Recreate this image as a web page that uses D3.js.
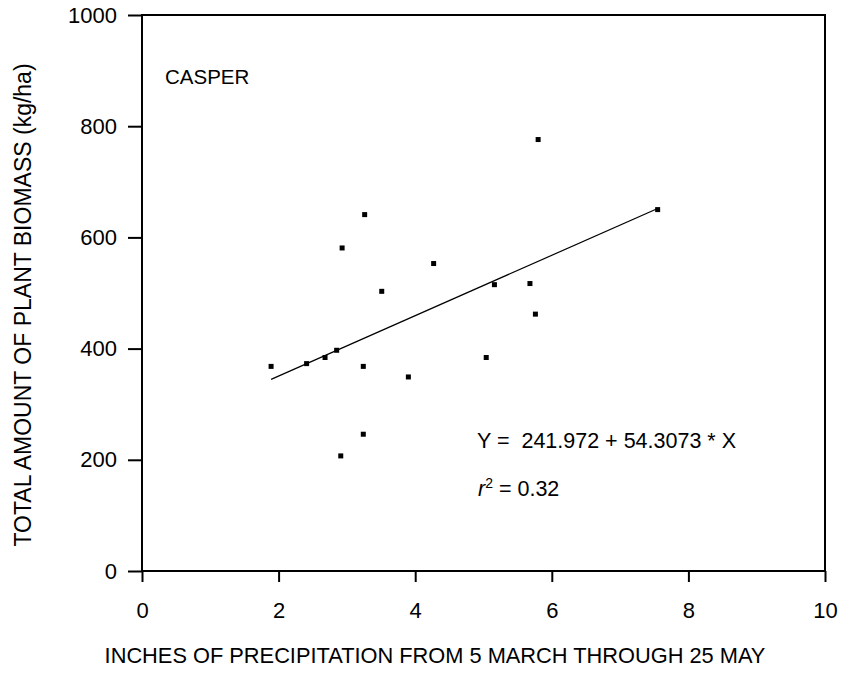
<!DOCTYPE html>
<html lang="en">
<head>
<meta charset="utf-8">
<title>casper</title>
<script src="https://cdn.jsdelivr.net/npm/d3@7"></script>
<style>
  body { margin: 0; background: #fff; }
  text { font-family: "Liberation Sans", Arial, sans-serif; fill: #000; }
</style>
</head>
<body>
<div id="chart"></div>
<script>

// precipitation (inches) vs total plant biomass (kg/ha)
var precip  = [1.89, 2.41, 2.68, 2.85, 3.24, 2.93, 3.51, 4.27, 3.90, 5.04, 5.16, 5.68, 5.76, 3.24, 2.91, 5.80, 7.55, 3.26];
var biomass = [368, 373, 384, 397, 368, 581, 503, 553, 349, 384, 515, 517, 462, 246, 207, 776, 650, 641];

// regression
var intercept = 241.972,
    slope = 54.3073,
    rSquared = 0.32;

var xTicks = [0, 2, 4, 6, 8, 10],
    yTicks = [0, 200, 400, 600, 800, 1000];

var width = 843, height = 673;
var margin = {top: 15, right: 18, bottom: 102, left: 142};

var svg = d3.select("#chart")
  .append("svg")
  .attr("width", width)
  .attr("height", height);

var x = d3.scaleLinear()
  .domain([0, 10])
  .range([margin.left, width - margin.right]);

var y = d3.scaleLinear()
  .domain([0, 1000])
  .range([height - margin.bottom, margin.top]);

// frame
svg.append("rect")
  .attr("x", x(0))
  .attr("y", y(1000))
  .attr("width", x(10) - x(0))
  .attr("height", y(0) - y(1000))
  .attr("fill", "none")
  .attr("stroke", "#000")
  .attr("stroke-width", 2);

// axes
var xAxis = svg.append("g")
  .attr("transform", "translate(0," + y(0) + ")")
  .call(d3.axisBottom(x).tickValues(xTicks).tickFormat(d3.format("d"))
    .tickSize(11).tickSizeOuter(0).tickPadding(20));

var yAxis = svg.append("g")
  .attr("transform", "translate(" + x(0) + ",0)")
  .call(d3.axisLeft(y).tickValues(yTicks).tickFormat(d3.format("d"))
    .tickSize(14).tickSizeOuter(0).tickPadding(11));

[xAxis, yAxis].forEach(function(g) {
  g.attr("font-size", 22).attr("font-family", "'Liberation Sans', Arial, sans-serif");
  g.select(".domain").remove();
  g.selectAll(".tick line").attr("stroke", "#000").attr("stroke-width", 2);
  g.selectAll(".tick text")
    .style("font-size", "22px")
    .attr("fill", "#000");
});

// axis titles
svg.append("text")
  .attr("x", 435)
  .attr("y", 663)
  .attr("text-anchor", "middle")
  .style("font-size", "21.8px")
  .text("INCHES OF PRECIPITATION FROM 5 MARCH THROUGH 25 MAY");

svg.append("text")
  .attr("transform", "translate(31,305) rotate(-90)")
  .attr("text-anchor", "middle")
  .style("font-size", "23px")
  .text("TOTAL AMOUNT OF PLANT BIOMASS (kg/ha)");

// site label
svg.append("text")
  .attr("x", 165)
  .attr("y", 84)
  .style("font-size", "20.5px")
  .text("CASPER");

// regression line
var xMin = d3.min(precip), xMax = d3.max(precip);
svg.append("line")
  .attr("x1", x(xMin))
  .attr("y1", y(intercept + slope * xMin))
  .attr("x2", x(xMax))
  .attr("y2", y(intercept + slope * xMax))
  .attr("stroke", "#000")
  .attr("stroke-width", 1.2);

// points
var pts = precip.map(function(d, i) { return {x: d, y: biomass[i]}; });
svg.selectAll(".pt")
  .data(pts)
  .enter()
  .append("rect")
  .attr("class", "pt")
  .attr("x", function(d) { return x(d.x) - 2.5; })
  .attr("y", function(d) { return y(d.y) - 2.5; })
  .attr("width", 5)
  .attr("height", 5)
  .attr("fill", "#000");

// equation
svg.append("text")
  .attr("x", 477)
  .attr("y", 448)
  .style("font-size", "21.5px")
  .style("white-space", "pre")
  .text("Y =  " + intercept.toFixed(3) + " + " + slope.toFixed(4) + " * X");

var r2 = svg.append("text")
  .attr("x", 478)
  .attr("y", 496)
  .style("font-size", "21.5px");
r2.append("tspan").style("font-style", "italic").text("r");
r2.append("tspan").attr("dy", -8).style("font-size", "14px").text("2");
r2.append("tspan").attr("dy", 8).text(" = " + rSquared.toFixed(2));

</script>
</body>
</html>
